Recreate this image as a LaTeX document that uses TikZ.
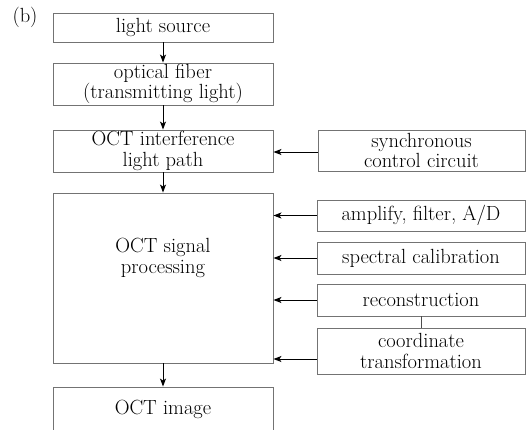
\documentclass[tikz,border=0pt]{standalone}
\usetikzlibrary{arrows.meta}
\begin{document}
\begin{tikzpicture}[x=1pt,y=-1pt,
  txt/.style={font=\fontsize{20.5}{20.5}\selectfont},
  box/.style={txt,draw=black!55,line width=0.9pt,align=center,inner sep=0pt},
  arr/.style={draw=black,line width=1pt,-{Stealth[length=8pt,width=6pt,inset=2pt]}},
  conn/.style={draw=black!70,line width=0.8pt}]
\useasboundingbox (0,0) rectangle (528,429);
\node[txt] (lbl) at (25,17) {(b)};
\node[box,minimum width=220pt,minimum height=29pt] (ls) at (163,27.5) {light source};
\node[box,minimum width=220pt,minimum height=42pt] (of) at (163,84) {optical fiber\\(transmitting light)};
\node[box,minimum width=220pt,minimum height=42pt] (oi) at (163,151) {OCT interference\\light path};
\node[box,minimum width=220pt,minimum height=170pt] (sp) at (163,278) {};
\node[txt,align=center] (sptext) at (163,258) {OCT signal\\processing};
\node[box,minimum width=220pt,minimum height=44pt] (img) at (163,409) {OCT image};
\node[box,minimum width=207pt,minimum height=41pt] (sc) at (421.5,150.5) {synchronous\\control circuit};
\node[box,minimum width=208pt,minimum height=31pt] (amp) at (421,215.5) {amplify, filter, A/D};
\node[box,minimum width=208pt,minimum height=32pt] (spec) at (421,258) {spectral calibration};
\node[box,minimum width=208pt,minimum height=32pt] (rec) at (421,300) {reconstruction};
\node[box,minimum width=208pt,minimum height=46pt] (coord) at (421,351) {coordinate\\transformation};
\draw[arr] (ls) -- (of);
\draw[arr] (of) -- (oi);
\draw[arr] (oi) -- (sp);
\draw[arr] (sp) -- (img);
\draw[arr] ([yshift=-1.5pt]sc.west) -- ([yshift=-1.5pt]sc.west -| oi.east);
\draw[arr] (amp.west) -- (amp.west -| sp.east);
\draw[arr] (spec.west) -- (spec.west -| sp.east);
\draw[arr] (rec.west) -- (rec.west -| sp.east);
\draw[arr] ([yshift=-8pt]coord.west) -- ([yshift=-8pt]coord.west -| sp.east);
\draw[conn] (rec) -- (coord);
\end{tikzpicture}
\end{document}
